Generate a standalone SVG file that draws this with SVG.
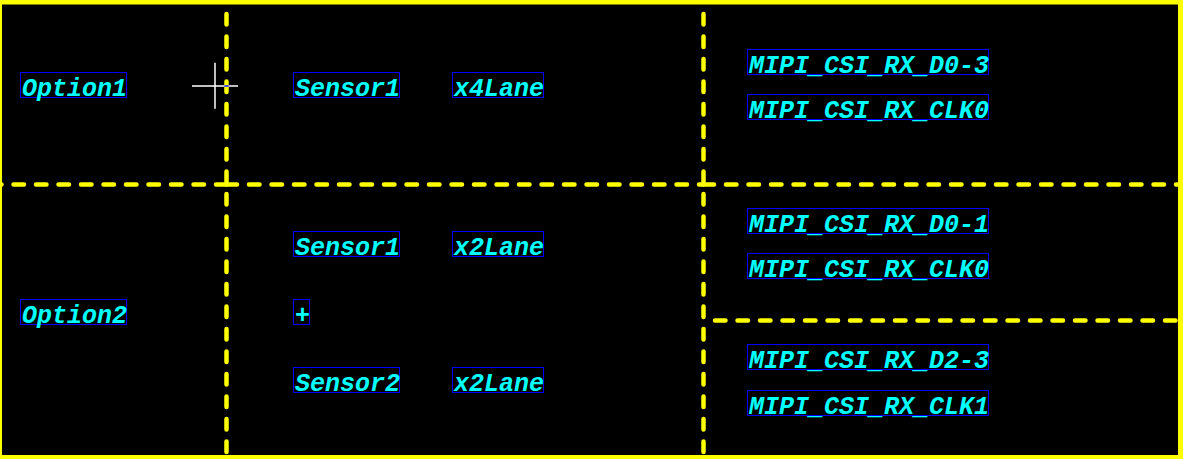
<svg xmlns="http://www.w3.org/2000/svg" width="1183" height="459" viewBox="0 0 1183 459">
<style>
.bg{fill:#000}
.frame{fill:#ffff00}
.dash{stroke:#ffff00;stroke-width:4.5;stroke-dasharray:10.5 12;stroke-linecap:round;fill:none}
.box{fill:none;stroke:#0000ff;stroke-width:1}
.lbl{font-family:"Liberation Mono","Courier New",monospace;font-size:25px;font-weight:bold;font-style:italic;fill:#00ffff}
.cross{stroke:#ffffff;stroke-width:1.5}
</style>
<rect class="bg" x="0" y="0" width="1183" height="459"/>
<g id="frame">
<rect class="frame" x="0" y="0" width="1183" height="4.5"/>
<rect class="frame" x="0" y="455" width="1183" height="4"/>
<rect class="frame" x="0" y="0" width="2" height="459"/>
<rect class="frame" x="1178" y="0" width="5" height="459"/>
</g>
<g id="connectors">
<line class="dash" x1="226.5" y1="14" x2="226.5" y2="459"/>
<line class="dash" x1="703.5" y1="14" x2="703.5" y2="459"/>
<line class="dash" x1="-9" y1="184.5" x2="226.5" y2="184.5"/>
<line class="dash" x1="226.5" y1="184.5" x2="703.5" y2="184.5"/>
<line class="dash" x1="703.5" y1="184.5" x2="1183" y2="184.5"/>
<line class="dash" x1="715" y1="320.5" x2="1183" y2="320.5"/>
</g>
<g id="cursor">
<line class="cross" x1="215" y1="62.7" x2="215" y2="108.7"/>
<line class="cross" x1="192" y1="86" x2="238" y2="86"/>
<rect x="224.3" y="85.3" width="4.4" height="1.4" fill="#0000ff"/>
</g>
<g id="option1">
<rect class="box" x="20.5" y="72.5" width="106" height="25"/>
<text class="lbl" x="22" y="95.5">Option1</text>
</g>
<g id="option2">
<rect class="box" x="20.5" y="299.5" width="106" height="25"/>
<text class="lbl" x="22" y="322.5">Option2</text>
</g>
<g id="sensor1a">
<rect class="box" x="293.5" y="72.5" width="106" height="25"/>
<text class="lbl" x="295" y="95.5">Sensor1</text>
</g>
<g id="x4lane">
<rect class="box" x="452.5" y="72.5" width="91" height="25"/>
<text class="lbl" x="454" y="95.5">x4Lane</text>
</g>
<g id="sensor1b">
<rect class="box" x="293.5" y="231.5" width="106" height="25"/>
<text class="lbl" x="295" y="254.5">Sensor1</text>
</g>
<g id="x2lane1">
<rect class="box" x="452.5" y="231.5" width="91" height="25"/>
<text class="lbl" x="454" y="254.5">x2Lane</text>
</g>
<g id="plus">
<rect class="box" x="293.5" y="299.5" width="16" height="25"/>
<text class="lbl" x="295" y="322.5">+</text>
</g>
<g id="sensor2">
<rect class="box" x="293.5" y="367.5" width="106" height="25"/>
<text class="lbl" x="295" y="390.5">Sensor2</text>
</g>
<g id="x2lane2">
<rect class="box" x="452.5" y="367.5" width="91" height="25"/>
<text class="lbl" x="454" y="390.5">x2Lane</text>
</g>
<g id="d03">
<rect class="box" x="747.5" y="49.5" width="241" height="25"/>
<text class="lbl" x="749" y="72.5">MIPI_CSI_RX_D0-3</text>
</g>
<g id="clk0a">
<rect class="box" x="747.5" y="94.5" width="241" height="25"/>
<text class="lbl" x="749" y="117.5">MIPI_CSI_RX_CLK0</text>
</g>
<g id="d01">
<rect class="box" x="747.5" y="208.5" width="241" height="25"/>
<text class="lbl" x="749" y="231.5">MIPI_CSI_RX_D0-1</text>
</g>
<g id="clk0b">
<rect class="box" x="747.5" y="253.5" width="241" height="25"/>
<text class="lbl" x="749" y="276.5">MIPI_CSI_RX_CLK0</text>
</g>
<g id="d23">
<rect class="box" x="747.5" y="344.5" width="241" height="25"/>
<text class="lbl" x="749" y="367.5">MIPI_CSI_RX_D2-3</text>
</g>
<g id="clk1">
<rect class="box" x="747.5" y="390.5" width="241" height="25"/>
<text class="lbl" x="749" y="413.5">MIPI_CSI_RX_CLK1</text>
</g>
</svg>
